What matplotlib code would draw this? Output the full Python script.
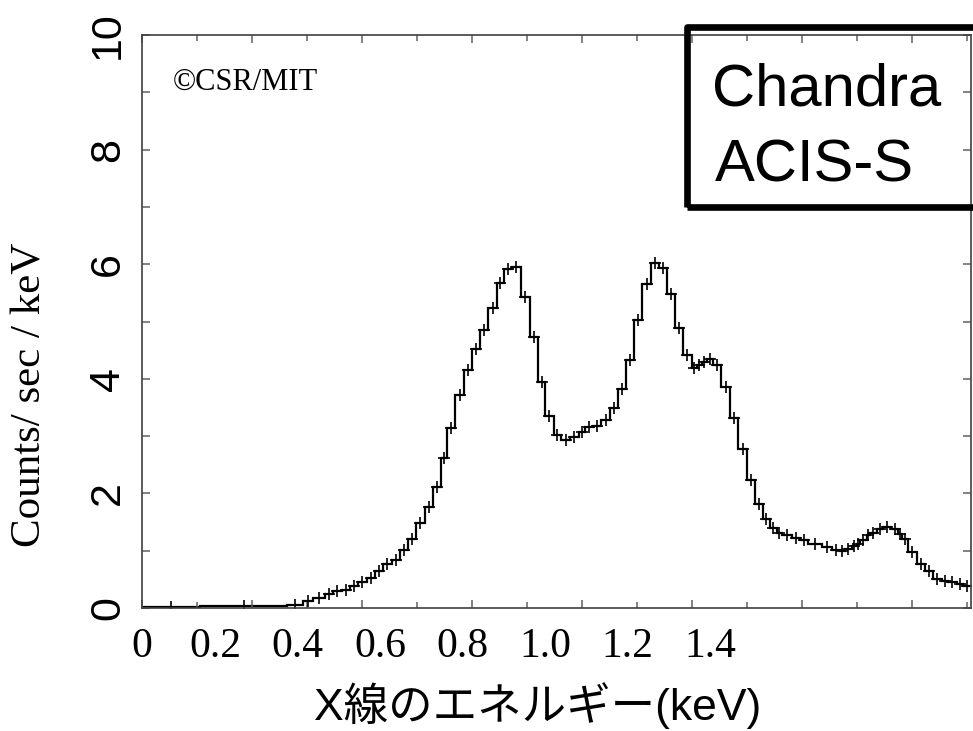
"""Chandra ACIS-S spectrum: counts/s/keV against X-ray energy."""

import numpy as np
import matplotlib

matplotlib.use("Agg")
import matplotlib.pyplot as plt
from matplotlib.patches import Rectangle
from matplotlib.ticker import FixedLocator, NullFormatter

# bin edges (keV) and measured rate per bin (counts / sec / keV)
bin_edges = [
    0.023, 0.164, 0.375, 0.413, 0.438, 0.467, 0.486, 0.508, 0.527, 0.547,
    0.568, 0.588, 0.607, 0.629, 0.648, 0.668, 0.687, 0.709, 0.728, 0.748,
    0.762, 0.782, 0.804, 0.823, 0.842, 0.862, 0.884, 0.900, 0.920, 0.941,
    0.963, 0.983, 1.001, 1.021, 1.039, 1.061, 1.082, 1.096, 1.116, 1.136,
    1.158, 1.176, 1.197, 1.216, 1.236, 1.258, 1.276, 1.296, 1.315, 1.335,
    1.356, 1.368, 1.380, 1.392, 1.408, 1.428, 1.448, 1.469, 1.489, 1.509,
    1.528, 1.545, 1.562, 1.574, 1.598, 1.618, 1.638, 1.671, 1.695, 1.715,
    1.727, 1.744, 1.756, 1.764, 1.780, 1.788, 1.804, 1.820, 1.840, 1.857,
    1.865, 1.881, 1.901, 1.921, 1.941, 1.962, 1.978, 1.998, 2.014, 2.035,
]
rate = [
    0.015, 0.03, 0.05, 0.12, 0.17, 0.25, 0.29, 0.32, 0.38, 0.45,
    0.52, 0.64, 0.76, 0.83, 1.01, 1.21, 1.48, 1.77, 2.11, 2.61,
    3.14, 3.71, 4.15, 4.52, 4.85, 5.24, 5.68, 5.92, 5.95, 5.43,
    4.73, 3.95, 3.35, 3.02, 2.93, 2.99, 3.07, 3.16, 3.17, 3.28,
    3.49, 3.82, 4.33, 5.03, 5.66, 6.02, 5.93, 5.48, 4.89, 4.41,
    4.18, 4.24, 4.30, 4.34, 4.24, 3.86, 3.32, 2.77, 2.23, 1.81,
    1.56, 1.40, 1.31, 1.27, 1.23, 1.18, 1.12, 1.07, 1.01, 0.99,
    1.03, 1.08, 1.12, 1.18, 1.27, 1.31, 1.37, 1.41, 1.37, 1.30,
    1.21, 0.98, 0.77, 0.64, 0.50, 0.47, 0.45, 0.42, 0.39,
]

x_labels = ["0", "0.2", "0.4", "0.6", "0.8", "1.0", "1.2", "1.4"]
x_label_pos = [0.023, 0.2, 0.4, 0.6, 0.8, 1.0, 1.2, 1.4]
y_ticks = [0, 2, 4, 6, 8, 10]

X_MIN, X_MAX = 0.023, 2.033
FRAME_STEP = 0.2667  # spacing of the original frame's tick marks

fig = plt.figure(figsize=(9.73, 7.31), dpi=100)
ax = fig.add_axes([142 / 973, 123 / 731, 829 / 973, 573 / 731])

edges = np.array(bin_edges)
vals = np.array(rate)
centers = 0.5 * (edges[:-1] + edges[1:])
ax.stairs(vals, edges, color="black", lw=1.6, baseline=None)
ax.plot(centers, vals, "+", color="black", ms=8, mew=1.2)

ax.set_xlim(X_MIN, X_MAX)
ax.set_ylim(0, 10)

frame_major = X_MIN + FRAME_STEP * np.arange(8)
frame_minor = X_MIN + FRAME_STEP * (np.arange(8) + 0.5)
ax.xaxis.set_major_locator(FixedLocator(frame_major))
ax.xaxis.set_minor_locator(FixedLocator(frame_minor))
ax.xaxis.set_major_formatter(NullFormatter())
ax.set_yticks(y_ticks)
ax.yaxis.set_minor_locator(FixedLocator([1, 3, 5, 7, 9]))

tick_col = "#606060"
ax.tick_params(which="both", direction="in", top=True, right=True,
               color=tick_col, width=1.1)
ax.tick_params(axis="x", which="major", length=6)
ax.tick_params(axis="x", which="minor", length=4)
ax.tick_params(axis="y", which="both", length=6)
ax.tick_params(axis="y", labelsize=31, labelrotation=90, pad=10)
for lbl in ax.get_yticklabels():
    lbl.set_family("Liberation Sans")
    lbl.set_va("center")

for side in ax.spines.values():
    side.set_color("#404040")
    side.set_linewidth(1.2)

sec = ax.secondary_xaxis("bottom")
sec.set_xticks(x_label_pos, x_labels)
sec.tick_params(length=0, pad=14, labelsize=30)
sec.spines["bottom"].set_visible(False)
for lbl in sec.get_xticklabels():
    lbl.set_family("Liberation Serif")

fig.text(30.5 / 973, 1 - 395 / 731, "Counts/ sec / keV", rotation=90,
         ha="center", va="center", fontsize=31, family="Liberation Serif")
fig.text(538 / 973, 1 - 720 / 731, "X線のエネルギー(keV)", ha="center",
         va="baseline", fontsize=32,
         family=["Liberation Sans", "Noto Sans CJK JP", "DejaVu Sans"])
fig.text(173 / 973, 1 - 90 / 731, "©CSR/MIT", ha="left", va="baseline",
         fontsize=22, family="Liberation Serif")

fig.patches.append(Rectangle((686.7 / 973, 1 - 206.7 / 731), 0.4, 179.4 / 731,
                             transform=fig.transFigure, fill=False,
                             edgecolor="black", lw=4.8, joinstyle="round"))
fig.text(711.7 / 973, 1 - 105 / 731, "Chandra", ha="left", va="baseline",
         fontsize=43, family="Liberation Sans")
fig.text(715 / 973, 1 - 181.7 / 731, "ACIS-S", ha="left", va="baseline",
         fontsize=43, family="Liberation Sans")

fig.savefig("out.png", dpi=100)
